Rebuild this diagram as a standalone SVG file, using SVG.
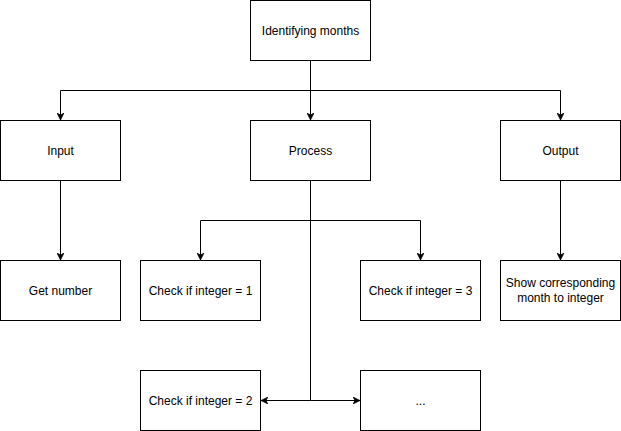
<svg xmlns="http://www.w3.org/2000/svg" width="621" height="431" viewBox="0 0 621 431">
<style>
.box{fill:#fff;stroke:#000;stroke-width:1}
.lbl{font-family:"Liberation Sans",Arial,sans-serif;font-size:12px;fill:#000;text-anchor:middle;dominant-baseline:central}
.edge{fill:none;stroke:#000;stroke-width:1}
</style>
<defs>
<marker id="arr" viewBox="0 0 10 10" refX="10" refY="5" markerWidth="7" markerHeight="7" markerUnits="userSpaceOnUse" orient="auto">
<path d="M0,0 L10,5 L0,10 L3,5 Z" fill="#000" stroke="#000" stroke-width="1"/>
</marker>
</defs>
<rect width="621" height="431" fill="#fff"/>
<g id="connectors">
<path class="edge" d="M310.5,60.5 V120" marker-end="url(#arr)"/>
<path class="edge" d="M310.5,90.5 H60.5 V120" marker-end="url(#arr)"/>
<path class="edge" d="M310.5,90.5 H560.5 V120" marker-end="url(#arr)"/>
<path class="edge" d="M60.5,180.5 V260" marker-end="url(#arr)"/>
<path class="edge" d="M560.5,180.5 V260" marker-end="url(#arr)"/>
<path class="edge" d="M310.5,180.5 V220.5 H200.5 V260" marker-end="url(#arr)"/>
<path class="edge" d="M310.5,220.5 H420.5 V260" marker-end="url(#arr)"/>
<path class="edge" d="M310.5,220.5 V400.5 H261" marker-end="url(#arr)"/>
<path class="edge" d="M310.5,400.5 H360" marker-end="url(#arr)"/>
</g>
<g id="n-top"><rect class="box" x="250.5" y="0.5" width="120" height="60"/><text class="lbl" x="310.5" y="30.5">Identifying months</text></g>
<g id="n-input"><rect class="box" x="0.5" y="120.5" width="120" height="60"/><text class="lbl" x="60.5" y="150.5">Input</text></g>
<g id="n-process"><rect class="box" x="250.5" y="120.5" width="120" height="60"/><text class="lbl" x="310.5" y="150.5">Process</text></g>
<g id="n-output"><rect class="box" x="500.5" y="120.5" width="120" height="60"/><text class="lbl" x="560.5" y="150.5">Output</text></g>
<g id="n-get"><rect class="box" x="0.5" y="260.5" width="120" height="60"/><text class="lbl" x="60.5" y="290.5">Get number</text></g>
<g id="n-check1"><rect class="box" x="140.5" y="260.5" width="120" height="60"/><text class="lbl" x="200.5" y="290.5">Check if integer = 1</text></g>
<g id="n-check3"><rect class="box" x="360.5" y="260.5" width="120" height="60"/><text class="lbl" x="420.5" y="290.5">Check if integer = 3</text></g>
<g id="n-show"><rect class="box" x="500.5" y="260.5" width="120" height="60"/><text class="lbl" x="560.5" y="283">Show corresponding</text><text class="lbl" x="560.5" y="298">month to integer</text></g>
<g id="n-check2"><rect class="box" x="140.5" y="370.5" width="120" height="60"/><text class="lbl" x="200.5" y="400.5">Check if integer = 2</text></g>
<g id="n-more"><rect class="box" x="360.5" y="370.5" width="120" height="60"/><text class="lbl" x="420.5" y="400.5">...</text></g>
</svg>
